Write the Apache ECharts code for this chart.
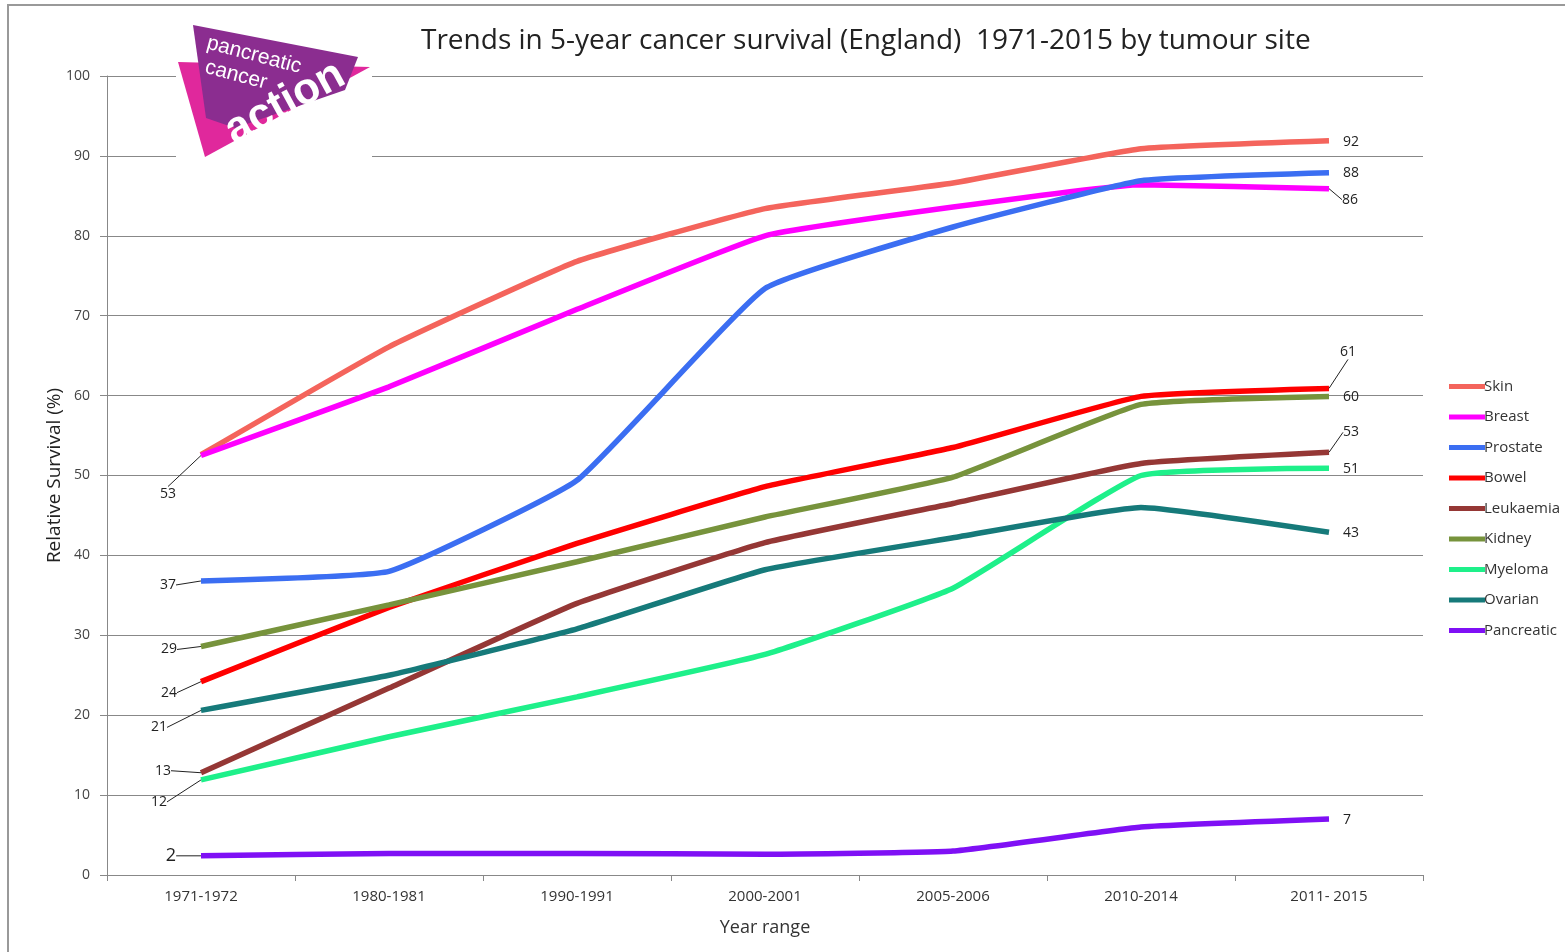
<!DOCTYPE html>
<html>
<head>
<meta charset="utf-8">
<script src="https://cdn.jsdelivr.net/npm/echarts@6/dist/echarts.min.js"></script>
<style>
  html, body { margin: 0; padding: 0; background: #fff; }
  #main { width: 1565px; height: 952px; }
</style>
</head>
<body>
<div id="main"></div>
<script>
// categories and values
const years = ["1971-1972", "1980-1981", "1990-1991", "2000-2001", "2005-2006", "2010-2014", "2011- 2015"];
const skin = [52.6, 66.1, 76.8, 83.4, 86.6, 90.9, 91.9];
const breast = [52.5, 61.1, 70.8, 80.0, 83.6, 86.4, 85.9];
const prostate = [36.8, 38.0, 49.4, 73.4, 81.1, 86.9, 87.9];
const bowel = [24.2, 33.5, 41.5, 48.6, 53.5, 59.9, 60.9];
const leukaemia = [12.8, 23.4, 34.0, 41.6, 46.5, 51.5, 52.9];
const kidney = [28.6, 33.8, 39.2, 44.8, 49.8, 58.9, 59.9];
const myeloma = [11.9, 17.3, 22.3, 27.6, 35.9, 50.0, 50.9];
const ovarian = [20.6, 25.0, 30.8, 38.2, 42.2, 46.0, 42.9];
const pancreatic = [2.4, 2.7, 2.7, 2.6, 3.0, 6.0, 7.0];
const yTicks = [0, 10, 20, 30, 40, 50, 60, 70, 80, 90, 100];

// [name, values, colour, left label offset (null = none), right label offset, leader left, leader right]
const seriesDefs = [
  ["Skin", skin, "#f4645c", null, [22, 1], false, false],
  ["Breast", breast, "#ff00ff", [-33, 38], [21, 11], true, true],
  ["Prostate", prostate, "#3b6ef2", [-33, 4], [22, 0], true, false],
  ["Bowel", bowel, "#ff0000", [-32, 11], [19, -36], true, true],
  ["Leukaemia", leukaemia, "#953735", [-38, -2], [22, -20], true, true],
  ["Kidney", kidney, "#77933c", [-32, 3], [22, 1], true, false],
  ["Myeloma", myeloma, "#1ef08a", [-42, 22], [22, 1], true, false],
  ["Ovarian", ovarian, "#167a7a", [-42, 17], [22, 1], true, false],
  ["Pancreatic", pancreatic, "#7f10f5", [-30, 0], [18, 1], true, false]
];

const chart = echarts.init(document.getElementById("main"));
const last = years.length - 1;

const series = seriesDefs.map(([name, vals, color, offL, offR, leadL, leadR]) => {
  const data = vals.map((v, i) => {
    let show = (i === 0 && offL) || (i === last && offR);
    if (!show) return v;
    let lead = i === 0 ? leadL : leadR;
    return {
      value: v,
      label: {
        show: true,
        fontSize: name === "Pancreatic" && i === 0 ? 18 : 14
      },
      labelLine: { show: lead }
    };
  });
  return {
    name: name,
    type: "line",
    color: color,
    data: data,
    symbol: "circle",
    symbolSize: 0.1,
    showSymbol: true,
    smooth: 0.12,
    lineStyle: { width: 5.5, color: color },
    itemStyle: { color: color },
    label: {
      show: false,
      position: "inside",
      color: "#222",
      fontFamily: "Open Sans",
      formatter: p => Math.round(p.value)
    },
    labelLine: {
      show: false,
      smooth: false,
      lineStyle: { color: "#222", width: 1 }
    },
    labelLayout: params => {
      const o = params.dataIndex === 0 ? offL : offR;
      if (!o) return {};
      return { dx: o[0], dy: o[1] };
    },
    emphasis: { disabled: true },
    z: 2
  };
});

const option = {
  backgroundColor: "#fff",
  animation: false,
  textStyle: { fontFamily: "Open Sans" },
  title: {
    text: "Trends in 5-year cancer survival (England)  1971-2015 by tumour site",
    left: 416,
    top: 22,
    textStyle: { fontSize: 28, fontWeight: "normal", color: "#222", fontFamily: "Open Sans" }
  },
  legend: {
    orient: "vertical",
    left: 1444,
    top: 373,
    icon: "rect",
    itemWidth: 36,
    itemHeight: 5,
    itemGap: 13.5,
    textStyle: { fontSize: 15, color: "#333", lineHeight: 17, padding: [0, 0, 0, -6] },
    data: seriesDefs.map(d => d[0])
  },
  grid: { left: 107, right: 142, top: 76, bottom: 77 },
  xAxis: {
    type: "category",
    data: years,
    boundaryGap: true,
    name: "Year range",
    nameLocation: "middle",
    nameGap: 44,
    nameMoveOverlap: false,
    nameTextStyle: { fontSize: 18, color: "#333" },
    axisLine: { lineStyle: { color: "#888" } },
    axisTick: { show: true, length: 6, lineStyle: { color: "#888" } },
    axisLabel: { fontSize: 15, color: "#333", margin: 14 }
  },
  yAxis: {
    type: "value",
    min: 0,
    max: 100,
    interval: 10,
    name: "Relative Survival (%)",
    nameLocation: "middle",
    nameRotate: 90,
    nameGap: 43,
    nameMoveOverlap: false,
    nameTextStyle: { fontSize: 19, color: "#222" },
    axisLine: { show: true, lineStyle: { color: "#888" } },
    axisTick: { show: true, length: 7, lineStyle: { color: "#888" } },
    axisLabel: {
      fontSize: 14,
      color: "#444",
      margin: 17,
      formatter: v => (yTicks.indexOf(v) >= 0 ? v : "")
    },
    splitLine: { lineStyle: { color: "#888", width: 1 } }
  },
  graphic: [
    // outer frame
    {
      type: "rect",
      shape: { x: 8, y: 5, width: 1600, height: 1000 },
      style: { fill: null, stroke: "#999", lineWidth: 2 },
      silent: true
    },
    // white patch behind logo
    {
      type: "rect",
      shape: { x: 176, y: 60, width: 196, height: 106 },
      style: { fill: "#fff" },
      z: 1,
      silent: true
    },
    {
      type: "polygon",
      shape: { points: [[178, 62], [370, 67], [205, 157]] },
      style: { fill: "#e0289c" },
      z: 2
    },
    {
      type: "polygon",
      shape: { points: [[193, 25], [358, 57], [345, 90], [235, 128], [206, 118]] },
      style: { fill: "#8b2d90" },
      z: 3
    },
    {
      type: "text",
      x: 254, y: 55, rotation: -0.26,
      style: { text: "pancreatic", fill: "#fff", font: "21px Liberation Sans", align: "center", verticalAlign: "middle" },
      z: 4
    },
    {
      type: "text",
      x: 236, y: 75, rotation: -0.26,
      style: { text: "cancer", fill: "#fff", font: "21px Liberation Sans", align: "center", verticalAlign: "middle" },
      z: 4
    },
    {
      type: "text",
      x: 285, y: 103, rotation: 0.5,
      style: { text: "action", fill: "#fff", font: "bold 44px Liberation Sans", align: "center", verticalAlign: "middle" },
      z: 4
    }
  ],
  series: series
};

chart.setOption(option);
</script>
</body>
</html>
